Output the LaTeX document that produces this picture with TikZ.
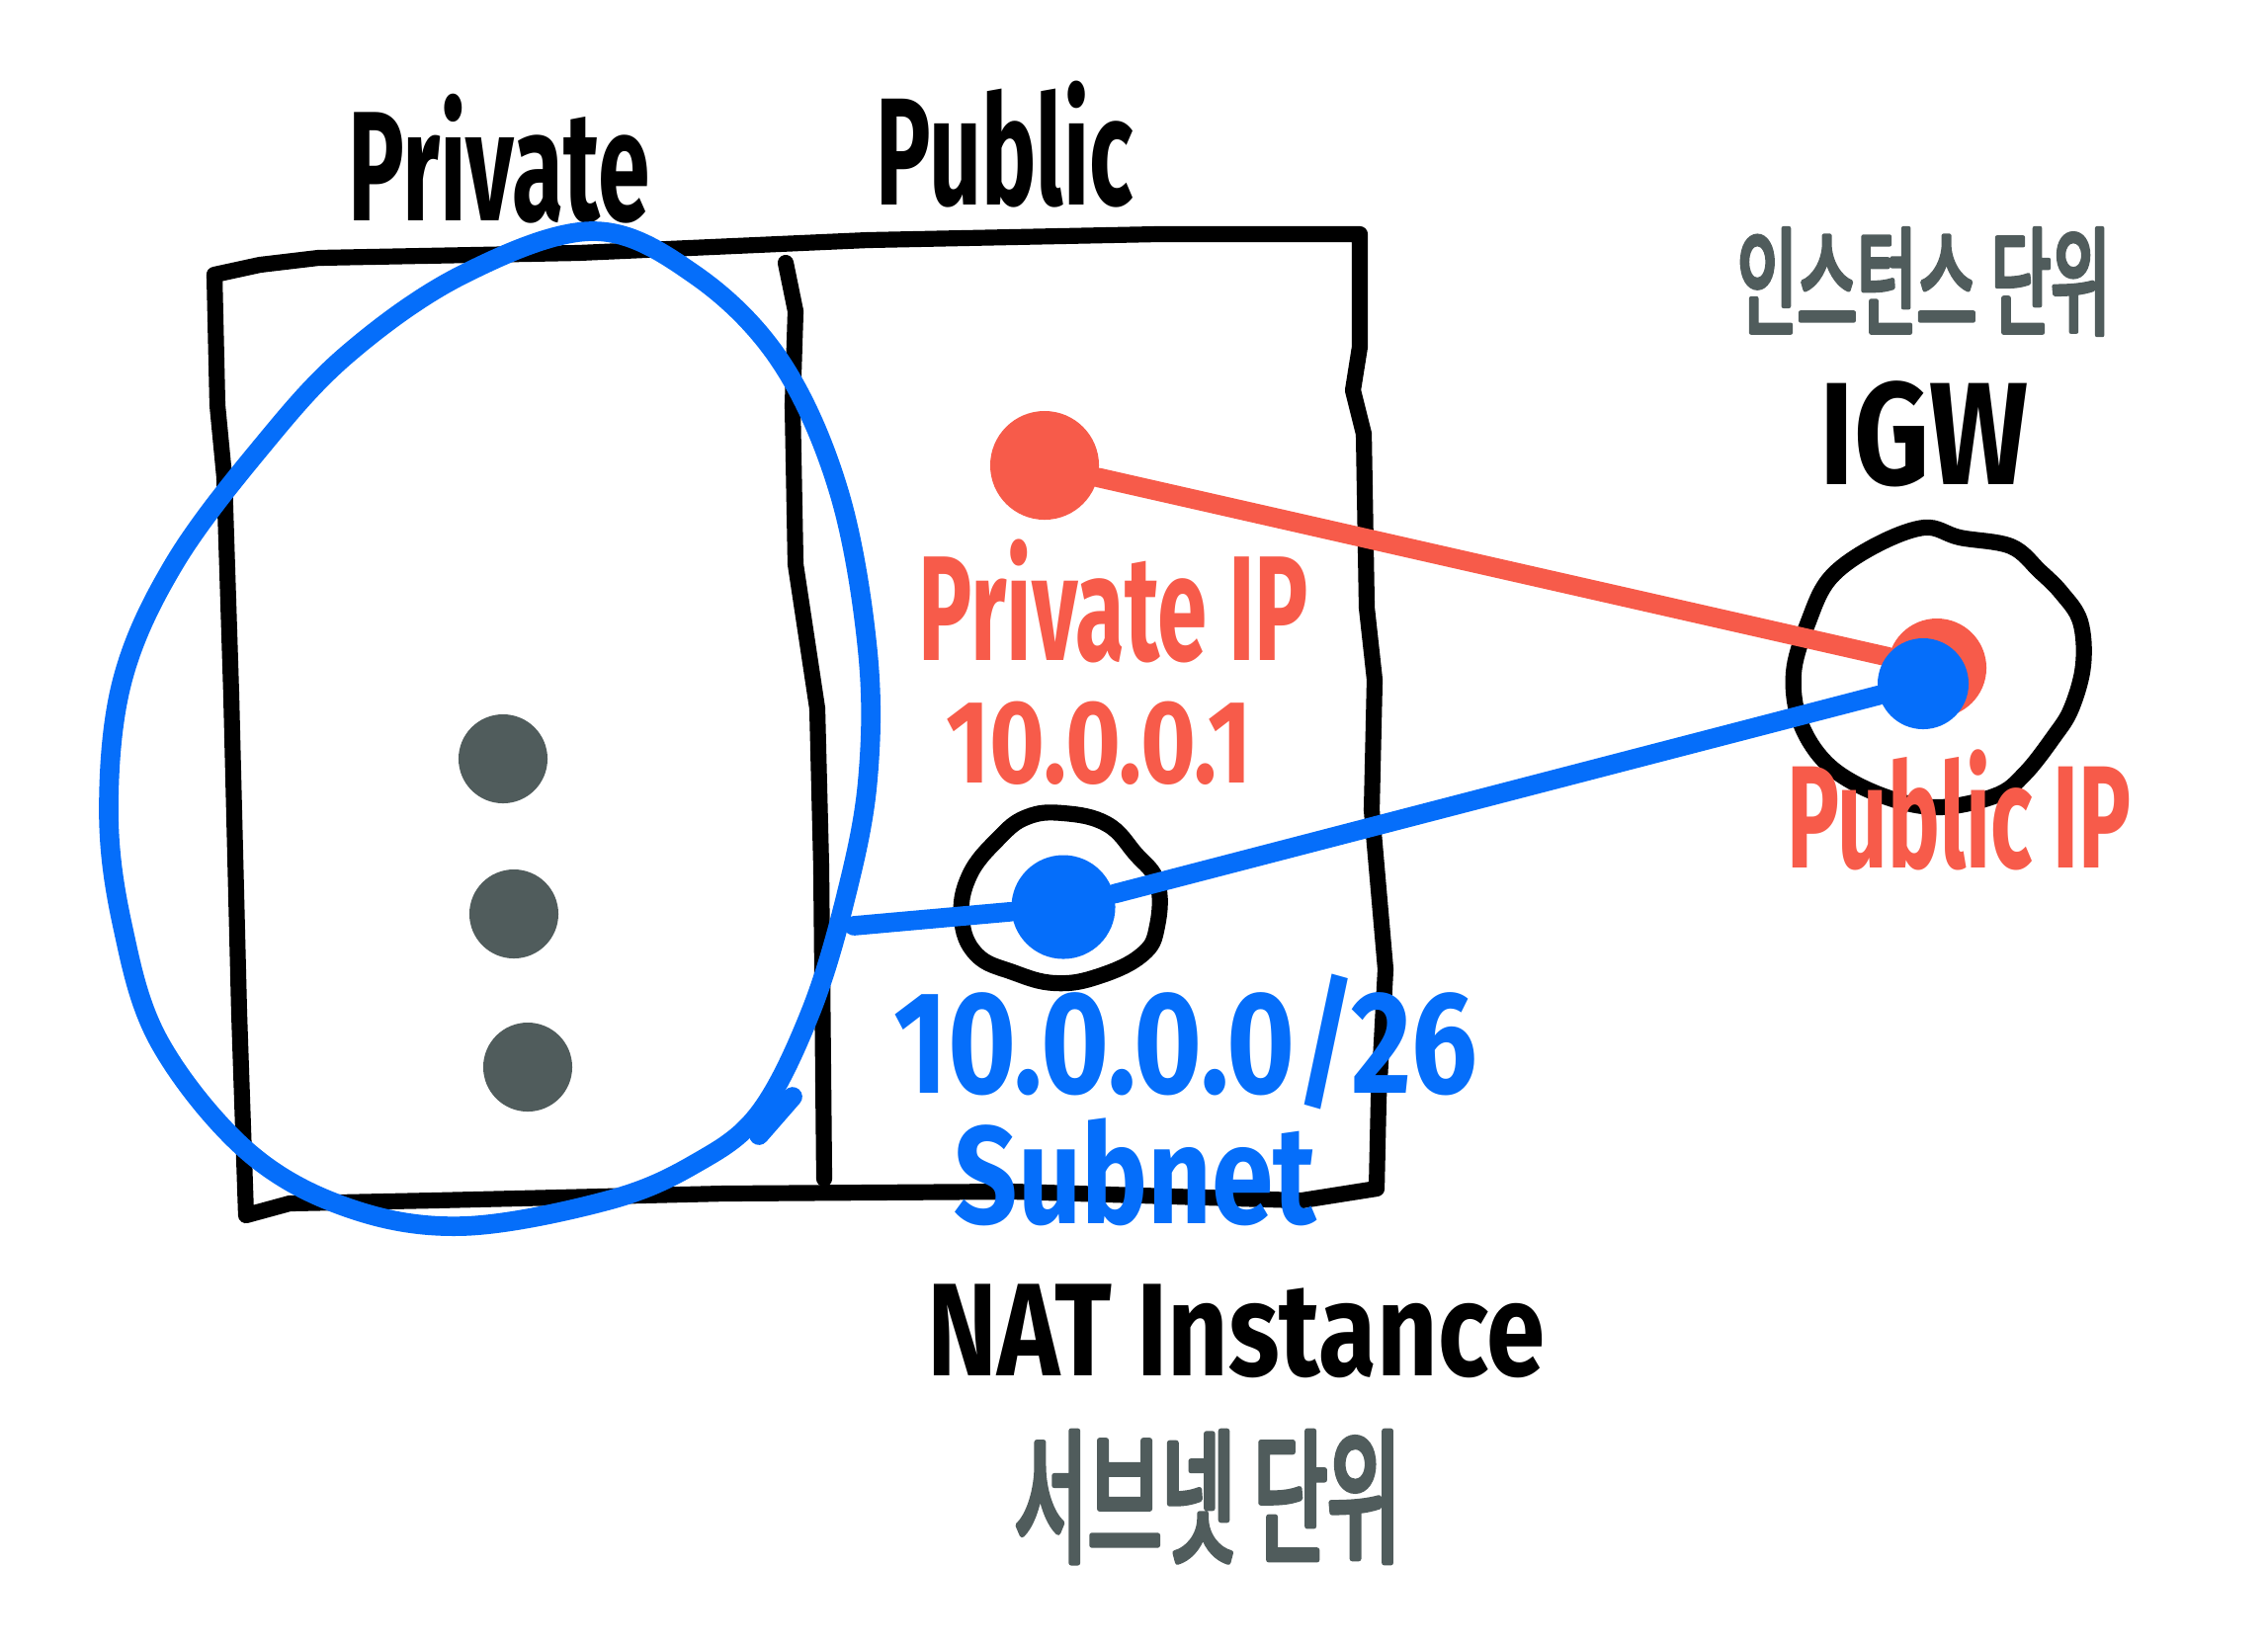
\documentclass[tikz,border=0pt]{standalone}
\usepackage{fontspec}
\setmainfont{Fira Sans}
\newfontfamily\handfont[FakeStretch=0.6]{Fira Sans}
\newfontfamily\handwide[FakeStretch=0.8]{Fira Sans}
\newfontfamily\korfont[FakeStretch=0.55,FakeBold=3.5]{Noto Sans CJK KR}
\usetikzlibrary{positioning}
\definecolor{penred}{RGB}{247,91,74}
\definecolor{penblue}{RGB}{5,110,250}
\definecolor{pengray}{RGB}{80,92,92}

\begin{document}
\begin{tikzpicture}[x=0.01cm,y=-0.01cm,line cap=round,line join=round,
  ink/.style={line width=4.6pt,black},
  bluepen/.style={line width=5.6pt,penblue},
  redpen/.style={line width=5.6pt,penred},
  spot/.style={circle,inner sep=0pt,minimum size=#1},
  scrawl/.style={font=\handfont\bfseries\fontsize{#1}{#1}\selectfont,inner sep=0pt},
  scrawlwide/.style={font=\handwide\bfseries\fontsize{#1}{#1}\selectfont,inner sep=0pt},
  korean/.style={font=\korfont\fontsize{#1}{#1}\selectfont,inner sep=0pt,text=pengray}]
\useasboundingbox (0,0) rectangle (2295,1668);
% private / public box
\draw[ink] (217,278) -- (263,268) -- (322,261) -- (585,256) -- (878,243) -- (1171,237) -- (1376,237)
  -- (1376,351) -- (1369,395) -- (1380,439) -- (1383,615) -- (1391,688) -- (1388,820) -- (1402,981)
  -- (1395,1112) -- (1393,1203) -- (1317,1215) -- (1025,1206) -- (732,1208) -- (439,1215)
  -- (293,1218) -- (249,1230) -- (242,1025) -- (234,703) -- (227,483) -- (220,410) -- cycle;
\draw[ink] (795,266) -- (805,315) -- (802,410) -- (805,571) -- (827,717) -- (831,878) -- (834,1193);
\node[scrawl=45pt] (private) at (505,161) {Private};
\node[scrawl=44pt] (public) at (1017,146) {Public};
% instances in the private subnet
\node[spot=0.9cm,fill=pengray] (inst1) at (509,768) {};
\node[spot=0.9cm,fill=pengray] (inst2) at (520,925) {};
\node[spot=0.9cm,fill=pengray] (inst3) at (534,1080) {};
% private group
\draw[bluepen] plot[smooth cycle,tension=0.6] coordinates {(600,234) (703,278) (790,366) (849,498)
  (878,659) (878,790) (856,907) (820,1025) (768,1127) (703,1178) (615,1215) (468,1241) (351,1222)
  (249,1164) (161,1054) (124,937) (110,820) (124,688) (176,571) (263,454) (351,359) (468,278)};
\draw[bluepen] (768,1149) -- (802,1110);
\coordinate (groupout) at (864,937);
% NAT instance
\draw[ink] plot[smooth cycle,tension=0.7] coordinates {(1076,823) (1120,834) (1149,864) (1171,893)
  (1171,937) (1156,966) (1112,988) (1068,995) (1025,984) (988,966) (973,929) (981,886) (1010,849) (1039,827)};
% IGW
\draw[ink] plot[smooth cycle,tension=0.6] coordinates {(1947,534) (1983,544) (2035,553) (2064,578)
  (2086,600) (2105,629) (2108,673) (2096,717) (2078,746) (2049,783) (2020,805) (1961,817) (1904,805)
  (1852,776) (1822,732) (1815,681) (1830,629) (1852,585) (1896,553)};
\node[spot=1.1cm,fill=penred] (privdot) at (1057,471) {};
\node[spot=1.05cm,fill=penblue] (natdot) at (1076,918) {};
\node[spot=1.0cm,fill=penred] (igwred) at (1960,676) {};
\draw[redpen] (privdot) -- (igwred);
\draw[bluepen] (groupout) -- (natdot);
\node[spot=0.92cm,fill=penblue] (igwblue) at (1946,692) {};
\draw[bluepen] (natdot) -- (igwblue);
% labels
\node[scrawl=43pt,text=penred] (privip) at (1127,608) {Private IP};
\node[scrawlwide=34pt,text=penred] (privaddr) at (1112,752) {10.0.0.1};
\node[scrawlwide=42pt,text=penblue] (cidr) at (1200,1054) {10.0.0.0/26};
\node[scrawlwide=40pt,text=penblue] (subnet) at (1149,1186) {Subnet};
\node[scrawlwide=38pt] (natlabel) at (1251,1347) {NAT Instance};
\node[korean=42pt] (natnote) at (1222,1515) {서브넷 단위};
\node[korean=34pt] (igwnote) at (1947,285) {인스턴스 단위};
\node[scrawlwide=42pt] (igwlabel) at (1947,439) {IGW};
\node[scrawl=42pt,text=penred] (pubip) at (1983,820) {Public IP};
\end{tikzpicture}
\end{document}
